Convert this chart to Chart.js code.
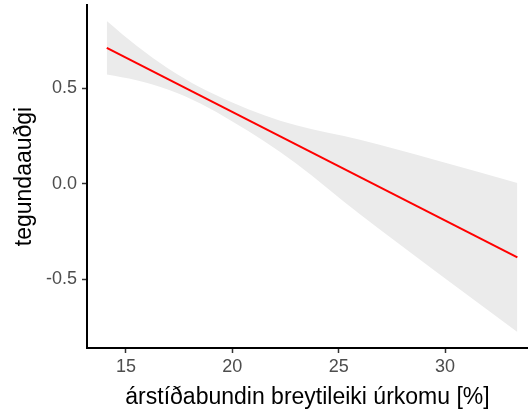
<!DOCTYPE html>
<html>
<head>
<meta charset="utf-8">
<script src="https://cdn.jsdelivr.net/npm/chart.js@4/dist/chart.umd.min.js"></script>
<style>
  html, body { margin: 0; padding: 0; background: #fff; }
  #wrap { width: 528px; height: 411px; }
</style>
</head>
<body>
<div id="wrap"><canvas id="fitChart" width="528" height="411"></canvas></div>
<script>
// fitted line (start / end)
var lineX = [14.1, 33.4];
var lineY = [0.711, -0.387];

// confidence band, read at a few x positions
var bandX = [14.1, 15.5, 17, 18.5, 20, 21.5, 23, 26, 29.5, 33.4];
var bandUpper = [0.851, 0.721, 0.601, 0.503, 0.425, 0.358, 0.305, 0.229, 0.125, 0.003];
var bandLower = [0.571, 0.541, 0.491, 0.419, 0.325, 0.222, 0.105, -0.161, -0.455, -0.777];

var xTicks = [15, 20, 25, 30];
var yTicks = [-0.5, 0, 0.5];

var xTitle = 'árstíðabundin breytileiki úrkomu [%]';
var yTitle = 'tegundaauðgi';

function pts(xs, ys) {
  return xs.map(function (x, i) { return {x: x, y: ys[i]}; });
}

var tickFont = {family: 'Liberation Sans, Arial, sans-serif', size: 18};
var titleFont = {family: 'Liberation Sans, Arial, sans-serif', size: 23};

var ctx = document.getElementById('fitChart').getContext('2d');
new Chart(ctx, {
  type: 'line',
  data: {
    datasets: [
      {
        label: 'fit',
        data: pts(lineX, lineY),
        borderColor: '#ff0000',
        borderWidth: 2,
        pointRadius: 0,
        fill: false,
        order: 0
      },
      {
        label: 'upper',
        data: pts(bandX, bandUpper),
        borderWidth: 0,
        borderColor: 'rgba(0,0,0,0)',
        backgroundColor: '#ebebeb',
        pointRadius: 0,
        cubicInterpolationMode: 'monotone',
        fill: '+1',
        order: 1
      },
      {
        label: 'lower',
        data: pts(bandX, bandLower),
        borderWidth: 0,
        borderColor: 'rgba(0,0,0,0)',
        pointRadius: 0,
        cubicInterpolationMode: 'monotone',
        fill: false,
        order: 2
      }
    ]
  },
  options: {
    responsive: false,
    animation: false,
    layout: {padding: {top: 5, right: 0, bottom: 0, left: 0}},
    plugins: {
      legend: {display: false},
      tooltip: {enabled: false}
    },
    scales: {
      x: {
        type: 'linear',
        min: 13.17,
        max: 33.9,
        afterBuildTicks: function (s) { s.ticks = xTicks.map(function (v) { return {value: v}; }); },
        afterFit: function (s) { s.height = 63; s.paddingLeft = 0; s.paddingRight = 0; },
        grid: {drawOnChartArea: false, drawTicks: true, tickLength: 5, tickColor: '#333', tickWidth: 1.5},
        border: {display: true, color: '#000', width: 2},
        ticks: {color: '#4d4d4d', font: tickFont, padding: 3, maxRotation: 0},
        title: {display: true, text: xTitle, color: '#000', font: titleFont, padding: {top: 4, bottom: 0}}
      },
      y: {
        type: 'linear',
        min: -0.861,
        max: 0.935,
        afterBuildTicks: function (s) { s.ticks = yTicks.map(function (v) { return {value: v}; }); },
        afterFit: function (s) { s.width = 87; s.paddingTop = 0; s.paddingBottom = 0; },
        grid: {drawOnChartArea: false, drawTicks: true, tickLength: 5, tickColor: '#333', tickWidth: 1.5},
        border: {display: true, color: '#000', width: 2},
        ticks: {
          color: '#4d4d4d', font: tickFont, padding: 5,
          callback: function (v) { return v.toFixed(1); }
        },
        title: {display: true, text: yTitle, color: '#000', font: titleFont, padding: {top: 11, bottom: 0}}
      }
    }
  }
});
</script>
</body>
</html>
